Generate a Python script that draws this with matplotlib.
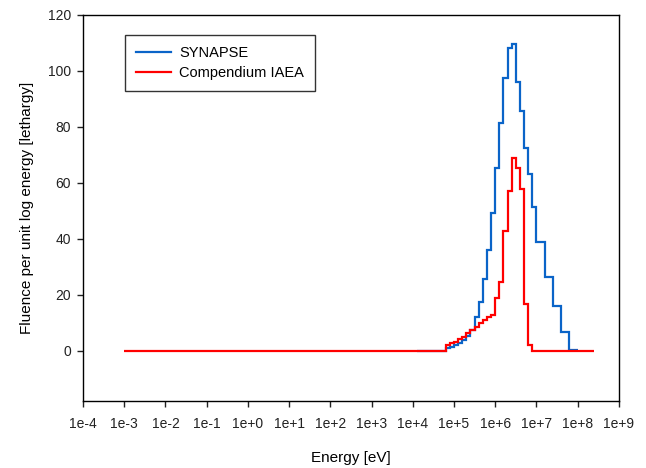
import numpy as np
import matplotlib
matplotlib.use("Agg")
import matplotlib.pyplot as plt
from matplotlib.ticker import FixedLocator, FixedFormatter

plt.rcParams['font.family'] = ['Liberation Sans', 'DejaVu Sans']

# bin edges as log10(E/eV)
synapse_edges = [4.1, 4.8, 4.9, 5.0, 5.1, 5.2, 5.3, 5.4, 5.5, 5.6, 5.7, 5.8, 5.9,
                 6.0, 6.1, 6.2, 6.3, 6.4, 6.5, 6.6, 6.7, 6.8, 6.9, 7.0, 7.2,
                 7.4, 7.6, 7.8, 8.0]
synapse_vals = [0.0, 0.8, 1.4, 2.0, 2.8, 3.8, 5.2, 7.5, 11.9, 17.5, 25.5, 35.8,
                49.1, 65.2, 81.3, 97.6, 108.1, 109.6, 96.0, 85.8, 72.6, 63.2,
                51.5, 38.8, 26.2, 16.0, 6.6, 0.4]

iaea_edges = [-3.0, 4.8, 4.9, 5.0, 5.1, 5.2, 5.3, 5.4, 5.5, 5.6, 5.7, 5.8, 5.9,
              6.0, 6.1, 6.2, 6.3, 6.4, 6.5, 6.6, 6.7, 6.8, 6.9, 8.4]
iaea_vals = [0.0, 2.0, 2.6, 3.2, 4.1, 5.0, 6.2, 7.4, 8.6, 9.8, 11.0, 11.9, 12.8,
             18.7, 24.7, 42.6, 57.2, 68.8, 65.2, 57.7, 16.7, 2.0, 0.0]

decades = list(range(-4, 10))
tick_labels = ["1e%+d" % d for d in decades]

fig = plt.figure(figsize=(6.46, 4.68), dpi=100)
ax = fig.add_axes([0.1285, 0.1432, 0.8295, 0.8248])

ax.stairs(synapse_vals, 10.0 ** np.array(synapse_edges), baseline=None,
          color='#0A64C8', lw=1.6, label='SYNAPSE')
ax.stairs(iaea_vals, 10.0 ** np.array(iaea_edges), baseline=None,
          color='#FF0000', lw=1.6, label='Compendium IAEA')

ax.set_xscale('log')
ax.set_xlim(1e-4, 1e9)
ax.xaxis.set_major_locator(FixedLocator([10.0 ** d for d in decades]))
ax.xaxis.set_major_formatter(FixedFormatter(tick_labels))
ax.xaxis.set_minor_locator(FixedLocator([]))
ax.set_ylim(-18, 120)
ax.set_yticks(np.arange(0, 121, 20))

ax.tick_params(direction='out', length=4.3, width=1, labelsize=10, colors='#222222')
ax.tick_params(axis='x', pad=7.5)
ax.tick_params(axis='y', pad=4.3)
for s in ax.spines.values():
    s.set_linewidth(1.0)

ax.set_xlabel('Energy [eV]', fontsize=11, labelpad=14)
ax.set_ylabel('Fluence per unit log energy [lethargy]', fontsize=11, labelpad=10)

leg = ax.legend(loc='upper left', bbox_to_anchor=(0.078, 0.948), fontsize=10.5,
                frameon=True, fancybox=False, edgecolor='black', handlelength=2.4,
                handletextpad=0.6, borderpad=0.75, labelspacing=0.42, borderaxespad=0)
leg.get_frame().set_linewidth(1.0)

fig.savefig('out.png', dpi=100)
